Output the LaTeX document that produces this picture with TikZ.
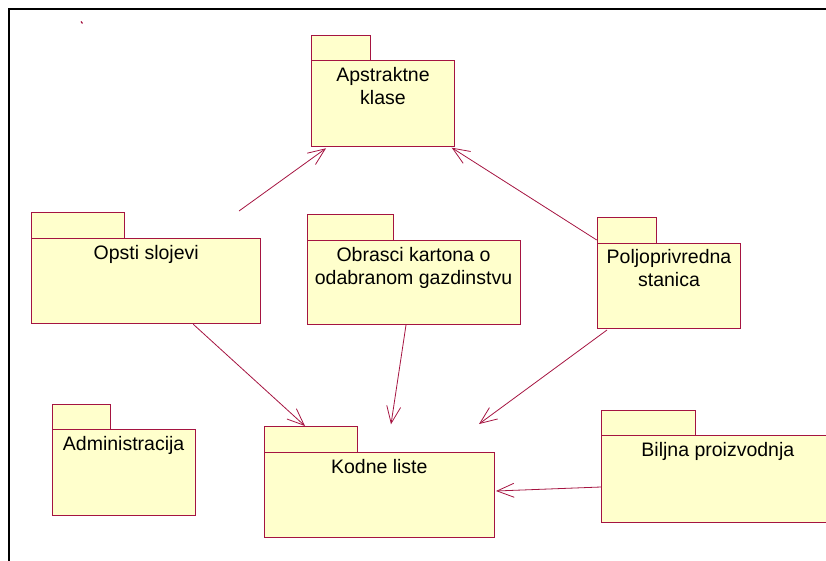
\documentclass[tikz,border=0pt]{standalone}
\usepackage{fontspec}
\setmainfont{Liberation Sans}
\usetikzlibrary{arrows.meta,calc}
\definecolor{pkgedge}{RGB}{165,20,65}
\definecolor{pkgfill}{RGB}{255,255,204}
% UML package: name, left, tab top, tab right, body top, right, bottom,
% label, offset of the label's last baseline below the body top
\newcommand\umlpkg[9]{%
  \node[pkgbody, minimum width={(#6-#2)*1pt}, minimum height={(#7-#5)*1pt}]
    (#1) at ({(#2+#6)/2},{(#5+#7)/2}) {};
  \draw[pkgtab] (#2,#5) rectangle (#4,#3);
  \node[pkglabel] (#1-name) at ($(#1.north)+(0,#9)$) {#8};
}
\tikzset{
  pkgbody/.style={draw=pkgedge, fill=pkgfill, line width=0.9pt,
    rectangle, inner sep=0pt, outer sep=0pt},
  pkgtab/.style={draw=pkgedge, fill=pkgfill, line width=0.9pt},
  pkglabel/.style={anchor=base, align=center, inner sep=0pt,
    font=\fontsize{19.5}{23}\selectfont},
  dep/.style={draw=pkgedge, line width=0.8pt,
    -{Straight Barb[length=17pt,width=14pt]}},
}
\begin{document}
\begin{tikzpicture}[x=1pt,y=-1pt]
  \useasboundingbox (0,0) rectangle (826,561);
  % frame edges
  \draw[line width=2.5pt] (9,561) -- (9,9) -- (826,9);
  \draw[pkgedge, line width=1.2pt] (81,21.5) -- (82.5,23.5);

  \umlpkg{apstr}{311.7}{35}{370}{60.7}{454.3}{146}{Apstraktne\\klase}{44}
  \umlpkg{opsti}{31.7}{212.7}{124.3}{238.3}{260.7}{323.3}{Opsti slojevi}{21}
  \umlpkg{obrasci}{307}{214}{393}{240}{520}{324}{Obrasci kartona o\\odabranom gazdinstvu}{44}
  \umlpkg{poljo}{597.3}{217.3}{656.7}{243.3}{740.7}{328.3}{Poljoprivredna\\stanica}{43.5}
  \umlpkg{admin}{52.3}{404.3}{110.3}{429.3}{195}{515}{Administracija}{21.5}
  \umlpkg{kodne}{264.3}{426.7}{357.7}{452.3}{494.3}{537.3}{Kodne liste}{21}
  \umlpkg{biljna}{601.7}{410.7}{695.3}{435.7}{834}{522.7}{Biljna proizvodnja}{21}

  % dependencies
  \draw[dep] ($(opsti.north west)+(207.3,-27.3)$) -- ($(apstr.south west)+(14.3,2.3)$);
  \draw[dep] ($(poljo.north west)+(-0.6,-3.3)$) -- ($(apstr.south east)+(-2.6,1.7)$);
  \draw[dep] ($(opsti.south west)+(161.6,1)$) -- ($(kodne.north west)+(40.7,-26.3)$);
  \draw[dep] ($(obrasci.south west)+(99,1)$) -- ($(kodne.north west)+(126.7,-28)$);
  \draw[dep] ($(poljo.south west)+(9.7,1.7)$) -- ($(kodne.north west)+(214.7,-28.3)$);
  \draw[dep] ($(biljna.north west)+(-0.7,51.3)$) -- ($(kodne.north east)+(1.7,38.7)$);
\end{tikzpicture}
\end{document}
